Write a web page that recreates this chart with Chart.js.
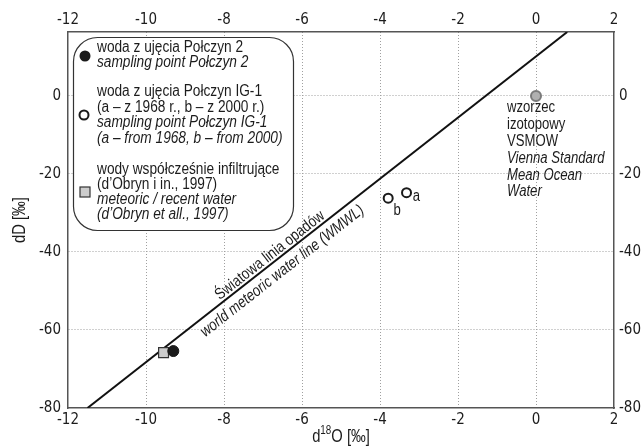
<!DOCTYPE html>
<html><head><meta charset="utf-8">
<script src="https://cdn.jsdelivr.net/npm/chart.js@4.4.1/dist/chart.umd.min.js"></script>
<style>html,body{margin:0;padding:0;background:#fff}canvas{display:block}</style>
</head><body>
<canvas id="c" width="642" height="446"></canvas>
<script>
// ---- data ----
const xTicks = [-12, -10, -8, -6, -4, -2, 0, 2];
const yTicks = [-80, -60, -40, -20, 0];
const xRange = [-12, 2];
const yRange = [-80, 16.4];
const wmwlX = [-11.5, 0.8];
const wmwlY = [-80, 16.4];
const polczyn2X = [-9.3];
const polczyn2Y = [-65.4];
const ig1Names = ['a', 'b'];
const ig1X = [-3.32, -3.79];
const ig1Y = [-24.8, -26.2];
const meteoricX = [-9.55];
const meteoricY = [-65.8];
const vsmowX = [0];
const vsmowY = [0];

const legendGroups = [
  { lines: [['woda z ujęcia Połczyn 2', false], ['sampling point Połczyn 2', true]] },
  { lines: [['woda z ujęcia Połczyn IG-1', false], ['(a – z 1968 r., b – z 2000 r.)', false], ['sampling point Połczyn IG-1', true], ['(a – from 1968, b – from 2000)', true]] },
  { lines: [['wody współcześnie infiltrujące', false], ['(d’Obryn i in., 1997)', false], ['meteoric / recent water', true], ['(d’Obryn et all., 1997)', true]] }
];
const vsmowText = [['wzorzec', false], ['izotopowy', false], ['VSMOW', false], ['Vienna Standard', true], ['Mean Ocean', true], ['Water', true]];
const wmwlUpper = 'Światowa linia opadów';
const wmwlLower = 'world meteoric water line (WMWL)';

const F = '"Liberation Sans", Arial, sans-serif';
const TF = '"DejaVu Sans Condensed", "Liberation Sans Narrow", sans-serif';
const NARROW = 0.82;
const pts = (xs, ys) => xs.map((x, i) => ({ x: x, y: ys[i] }));

// draw condensed text: Liberation Sans squeezed horizontally
function txt(ctx, s, x, y, size, italic, align, rot, sx) {
  ctx.save();
  ctx.translate(x, y);
  if (rot) ctx.rotate(rot);
  ctx.scale(sx || NARROW, 1);
  ctx.font = (italic ? 'italic ' : '') + size + 'px ' + F;
  ctx.textAlign = align || 'left';
  ctx.textBaseline = 'middle';
  ctx.fillText(s, 0, 0);
  ctx.restore();
}

const annot = {
  id: 'annot',
  afterDatasetsDraw(chart) {
    const ctx = chart.ctx, xs = chart.scales.x, ys = chart.scales.y;
    const px = v => xs.getPixelForValue(v), py = v => ys.getPixelForValue(v);
    ctx.save();
    ctx.fillStyle = '#1c1c1c';
    // WMWL rotated labels
    const x1 = px(wmwlX[0]), y1 = py(wmwlY[0]), x2 = px(wmwlX[1]), y2 = py(wmwlY[1]);
    const ang = Math.atan2(y2 - y1, x2 - x1);
    const t = 0.39;
    const ax = x1 + t * (x2 - x1), ay = y1 + t * (y2 - y1);
    const nx = -Math.sin(ang), ny = Math.cos(ang);
    txt(ctx, wmwlUpper, ax - nx * 7.5, ay - ny * 7.5, 16, false, 'center', ang, 0.83);
    txt(ctx, wmwlLower, ax + nx * 12.5, ay + ny * 12.5, 16, true, 'center', ang, 0.83);
    // a / b labels
    const offs = [[10, 3.5], [9, 12]];
    ig1Names.forEach((n, i) => {
      txt(ctx, n, px(ig1X[i]) + offs[i][0], py(ig1Y[i]) + offs[i][1], 16, false, 'center');
    });
    // VSMOW text
    const vx = px(vsmowX[0]) - 29, vy = py(vsmowY[0]) + 12;
    vsmowText.forEach(([s, it], i) => {
      txt(ctx, s, vx, vy + i * 16.8, 16, it, 'left');
    });
    // legend box
    const L = 73.5, T = 37.5, W = 220, H = 193, R = 24;
    ctx.beginPath();
    ctx.roundRect(L, T, W, H, R);
    ctx.fillStyle = '#fff'; ctx.fill();
    ctx.lineWidth = 1.2; ctx.strokeStyle = '#333'; ctx.stroke();
    ctx.fillStyle = '#1c1c1c';
    const lineY = [[48, 63], [92, 107.5, 123, 138.5], [170, 185, 200, 215]];
    legendGroups.forEach((g, gi) => {
      g.lines.forEach(([s, it], li) => {
        txt(ctx, s, 97, lineY[gi][li], 16, it, 'left', 0, 0.855);
      });
    });
    // legend markers
    ctx.beginPath(); ctx.arc(85, 56, 5.5, 0, Math.PI * 2); ctx.fillStyle = '#1a1a1a'; ctx.fill();
    ctx.beginPath(); ctx.arc(84, 115, 4.5, 0, Math.PI * 2); ctx.fillStyle = '#fff'; ctx.fill();
    ctx.lineWidth = 2; ctx.strokeStyle = '#1a1a1a'; ctx.stroke();
    ctx.fillStyle = '#ccc'; ctx.fillRect(80, 187, 10, 10);
    ctx.lineWidth = 1.2; ctx.strokeStyle = '#333'; ctx.strokeRect(80, 187, 10, 10);
    ctx.restore();
  },
  afterDraw(chart) {
    const ctx = chart.ctx, ca = chart.chartArea;
    ctx.save();
    ctx.fillStyle = '#1c1c1c';
    // y title
    txt(ctx, 'dD [‰]', 20, (ca.top + ca.bottom) / 2, 18, false, 'center', -Math.PI / 2);
    // x title with superscript
    const cx = (ca.left + ca.right) / 2, by = 437;
    ctx.font = '18px ' + F; const w1 = ctx.measureText('d').width * NARROW, w3 = ctx.measureText('O [‰]').width * NARROW;
    ctx.font = '12px ' + F; const w2 = ctx.measureText('18').width * NARROW;
    const x0 = cx - (w1 + w2 + w3) / 2;
    txt(ctx, 'd', x0, by, 18, false, 'left');
    txt(ctx, '18', x0 + w1, by - 6, 12, false, 'left');
    txt(ctx, 'O [‰]', x0 + w1 + w2, by, 18, false, 'left');
    ctx.restore();
  }
};

const gridColor = (ctx) => {
  const v = ctx.tick ? ctx.tick.value : null;
  return (v === xRange[0] || v === xRange[1] || v === yRange[0]) ? 'rgba(0,0,0,0)' : '#a0a0a0';
};
const tickFont = { family: TF, size: 15 };

new Chart(document.getElementById('c'), {
  type: 'scatter',
  data: {
    datasets: [
      { label: 'VSMOW', data: pts(vsmowX, vsmowY), pointRadius: 5, pointBackgroundColor: '#b0b0b0', pointBorderColor: '#7a7a7a', pointBorderWidth: 2 },
      { label: 'Połczyn 2', data: pts(polczyn2X, polczyn2Y), pointRadius: 5.5, pointBackgroundColor: '#1a1a1a', pointBorderColor: '#1a1a1a', pointBorderWidth: 1 },
      { label: 'Połczyn IG-1', data: pts(ig1X, ig1Y), pointRadius: 4.5, pointBackgroundColor: '#fff', pointBorderColor: '#1a1a1a', pointBorderWidth: 2 },
      { label: 'meteoric', data: pts(meteoricX, meteoricY), pointStyle: 'rect', pointRadius: 7, pointBackgroundColor: '#ccc', pointBorderColor: '#333', pointBorderWidth: 1.2 },
      { label: 'WMWL', data: pts(wmwlX, wmwlY), showLine: true, borderColor: '#111', borderWidth: 2, pointRadius: 0 }
    ]
  },
  options: {
    responsive: false,
    animation: false,
    layout: { padding: 0, autoPadding: false },
    plugins: { legend: { display: false }, tooltip: { enabled: false } },
    scales: {
      x: {
        type: 'linear', position: 'bottom', min: xRange[0], max: xRange[1],
        afterBuildTicks: a => { a.ticks = xTicks.map(v => ({ value: v })); },
        afterFit: a => { a.height = 38; },
        grid: { color: gridColor, lineWidth: 1, drawTicks: false },
        border: { display: true, color: '#555', width: 1.5, dash: [1, 2] },
        ticks: { font: tickFont, color: '#1c1c1c', padding: 3, maxRotation: 0, autoSkip: false }
      },
      x2: {
        type: 'linear', position: 'top', min: xRange[0], max: xRange[1],
        afterBuildTicks: a => { a.ticks = xTicks.map(v => ({ value: v })); },
        afterFit: a => { a.height = 32; },
        grid: { display: false, drawTicks: false },
        border: { display: true, color: '#555', width: 1.5 },
        ticks: { font: tickFont, color: '#1c1c1c', padding: 3, maxRotation: 0, autoSkip: false }
      },
      y: {
        type: 'linear', position: 'left', min: yRange[0], max: yRange[1],
        afterBuildTicks: a => { a.ticks = yTicks.map(v => ({ value: v })); },
        afterFit: a => { a.width = 68; },
        grid: { color: gridColor, lineWidth: 1, drawTicks: false },
        border: { display: true, color: '#555', width: 1.5, dash: [1, 2] },
        ticks: { font: tickFont, color: '#1c1c1c', padding: 7, autoSkip: false }
      },
      y2: {
        type: 'linear', position: 'right', min: yRange[0], max: yRange[1],
        afterBuildTicks: a => { a.ticks = yTicks.map(v => ({ value: v })); },
        afterFit: a => { a.width = 28; },
        grid: { display: false, drawTicks: false },
        border: { display: true, color: '#555', width: 1.5 },
        ticks: { font: tickFont, color: '#1c1c1c', padding: 5, autoSkip: false }
      }
    }
  },
  plugins: [annot]
});
</script>
</body></html>
